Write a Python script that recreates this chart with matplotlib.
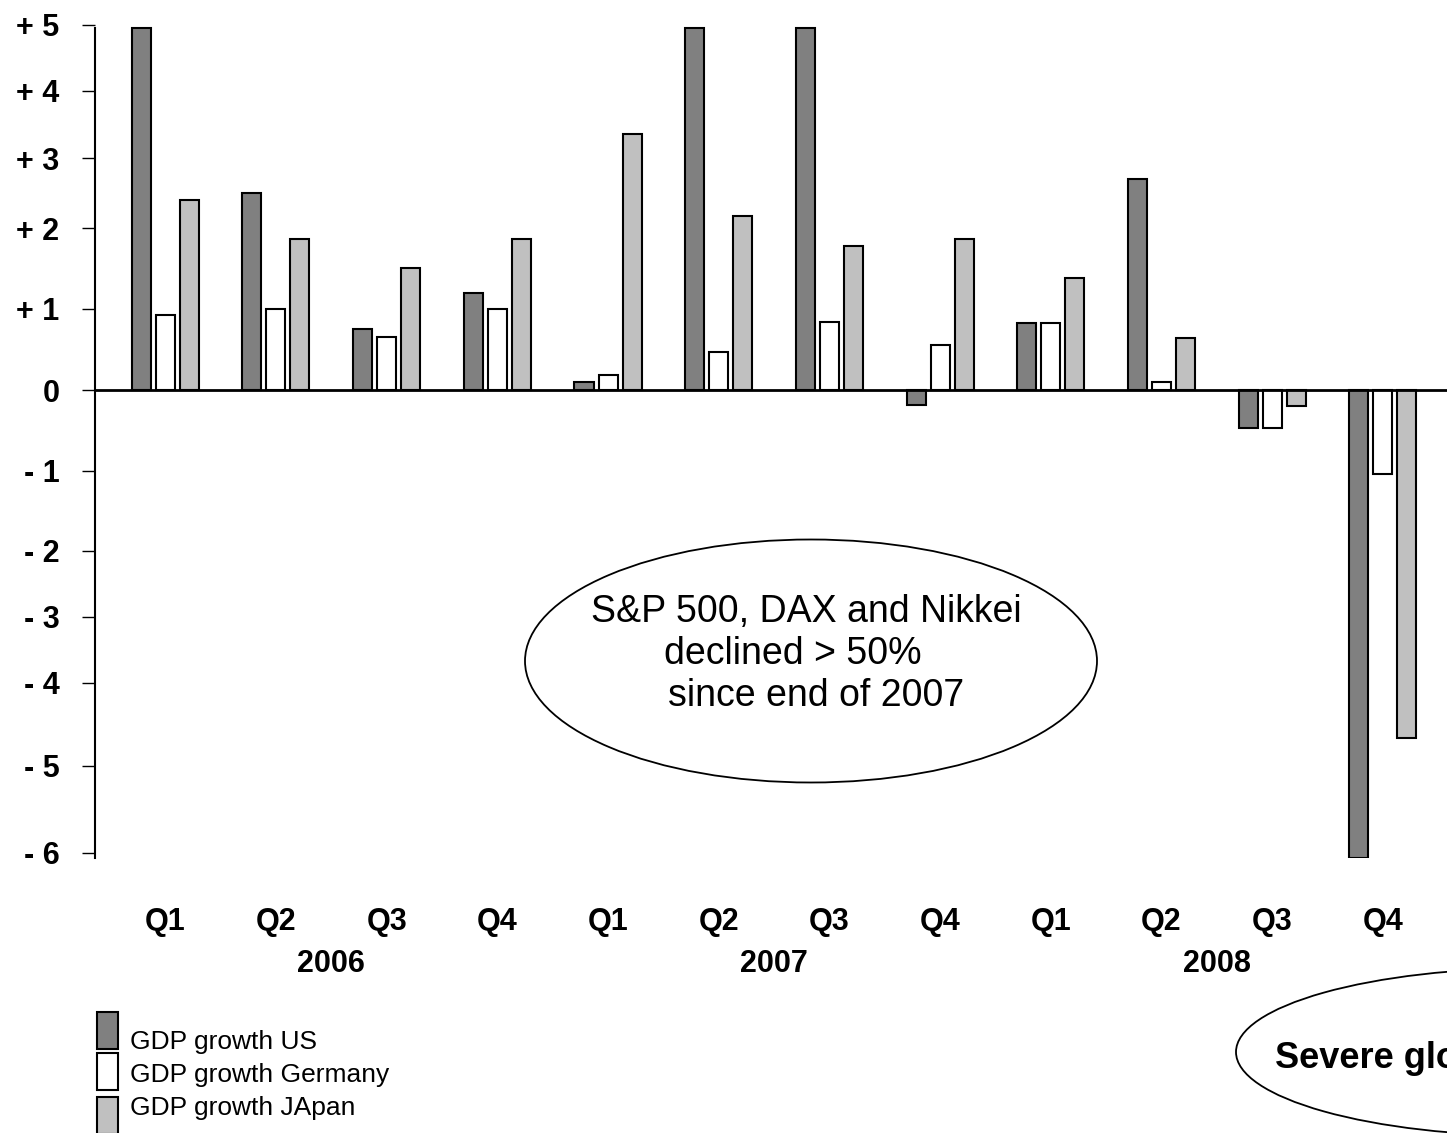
import numpy as np
import matplotlib
matplotlib.use("Agg")
import matplotlib.pyplot as plt
from matplotlib.patches import Ellipse, Rectangle
from matplotlib.transforms import blended_transform_factory

plt.rcParams.update({"font.family": ["Liberation Sans", "DejaVu Sans"]})

# GDP growth per quarter (%), 2006 Q1 .. 2008 Q4
quarters = ["Q1", "Q2", "Q3", "Q4"] * 3
years = ["2006", "2007", "2008"]
gdp_us = [4.95, 2.5, 0.75, 1.2, 0.1, 4.95, 4.95, -0.19, 0.83, 2.7, -0.47, -6.06]
gdp_de = [0.93, 1.0, 0.65, 1.0, 0.19, 0.47, 0.84, 0.56, 0.83, 0.1, -0.47, -1.04]
gdp_jp = [2.4, 1.86, 1.5, 1.86, 3.36, 2.17, 1.78, 1.86, 1.38, 0.64, -0.2, -4.66]

ytick_vals = [5, 4, 3, 2, 1, 0, -1, -2, -3, -4, -5, -6]
ytick_labels = ["+ 5", "+ 4", "+ 3", "+ 2", "+ 1", "0",
                "- 1", "- 2", "- 3", "- 4", "- 5", "- 6"]
# the original axis is not evenly spaced: where each tick sits (px from top)
ytick_px = [25, 91, 158, 228, 309, 390, 471, 551, 617, 683, 766, 853]

W, H = 1447, 1133
sv = np.array([-7] + ytick_vals[::-1] + [6], dtype=float)
sp = -np.array([940] + ytick_px[::-1] + [-41], dtype=float)


def fwd(v):
    return np.interp(v, sv, sp)


def inv(p):
    return np.interp(p, sp, sv)


fig = plt.figure(figsize=(W / 100, H / 100), dpi=100)
top_px, bot_px = 25, 858
ax = fig.add_axes([95 / W, 1 - bot_px / H, 1 - 95 / W, (bot_px - top_px) / H])
ax.set_yscale("function", functions=(fwd, inv))

x = np.arange(len(gdp_us))
bw = 19 / 110.6
step = 24 / 110.6
kw = dict(width=bw, edgecolor="black", linewidth=1.5, zorder=2)
ax.bar(x - step, gdp_us, color="#808080", **kw)
ax.bar(x, gdp_de, color="white", **kw)
ax.bar(x + step, gdp_jp, color="#C0C0C0", **kw)

ax.axhline(0, color="black", linewidth=2, zorder=3)
ax.set_xlim(-0.635, 11.58)
ax.set_ylim(inv(-bot_px), 5.0)

ax.set_yticks(ytick_vals)
ax.set_yticklabels(ytick_labels, fontsize=22, weight="bold")
ax.yaxis.set_minor_locator(matplotlib.ticker.NullLocator())
ax.tick_params(axis="y", length=9.5, width=1, pad=16)
ax.set_xticks([])
for s in ("top", "right", "bottom"):
    ax.spines[s].set_visible(False)
ax.spines["left"].set_linewidth(1.5)
ax.spines["left"].set_bounds(inv(-bot_px), 4.95)

tr = blended_transform_factory(ax.transData, fig.transFigure)
for i, q in enumerate(quarters):
    ax.text(i, 1 - 922 / H, q, transform=tr, ha="center", va="center",
            fontsize=22, weight="bold")
for j, yr in enumerate(years):
    ax.text(4 * j + 1.5, 1 - 964 / H, yr, transform=tr, ha="center",
            va="center", fontsize=22, weight="bold")

# callout ellipses (figure pixel coords)
figpx = fig.transFigure
e1 = Ellipse((811 / W, 1 - 661 / H), 572 / W, 243 / H, transform=figpx,
             facecolor="none", edgecolor="black", linewidth=1.3)
fig.add_artist(e1)
callout = [("S&P 500, DAX and Nikkei", 806, 612),
           ("declined > 50%", 793, 654),
           ("since end of 2007", 816, 696)]
for line, cx, cy in callout:
    fig.text(cx / W, 1 - cy / H, line, ha="center", va="center", fontsize=27)

e2 = Ellipse((1536 / W, 1 - 1052 / H), 600 / W, 168 / H, transform=figpx,
             facecolor="none", edgecolor="black", linewidth=1.3)
fig.add_artist(e2)
fig.text(1275 / W, 1 - 1058 / H, "Severe global recession", ha="left",
         va="center", fontsize=26, weight="bold")

# legend
leg = [("GDP growth US", "#808080", 1012, 1049),
       ("GDP growth Germany", "white", 1053, 1082),
       ("GDP growth JApan", "#C0C0C0", 1097, 1115)]
for label, col, ytop, base in leg:
    fig.add_artist(Rectangle((97 / W, 1 - (ytop + 37) / H), 21 / W, 37 / H,
                             transform=figpx, facecolor=col,
                             edgecolor="black", linewidth=1.5))
    fig.text(130 / W, 1 - base / H, label, ha="left", va="baseline",
             fontsize=19)

fig.savefig("out.png", dpi=100)
